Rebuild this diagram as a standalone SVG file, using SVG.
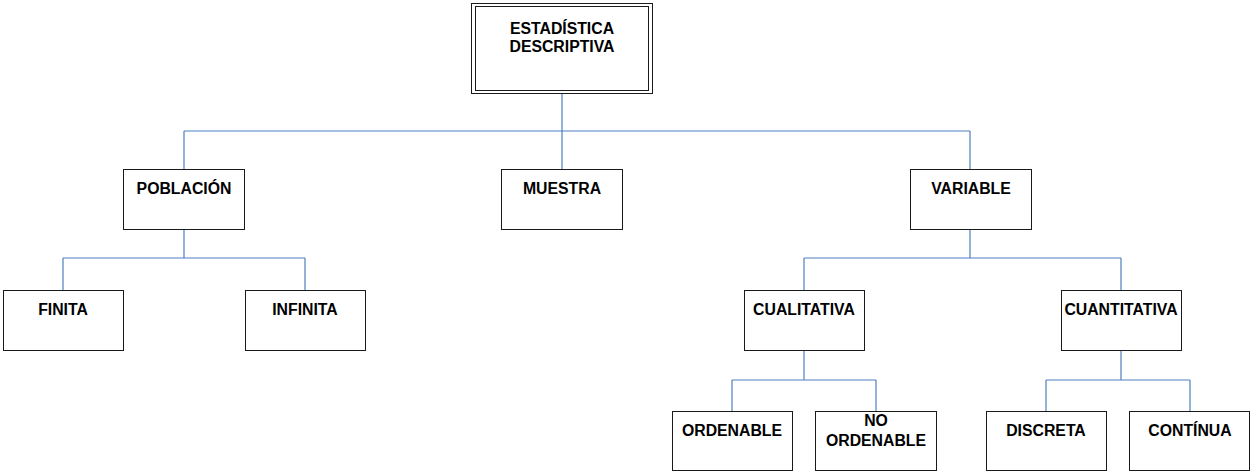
<svg xmlns="http://www.w3.org/2000/svg" width="1254" height="475" viewBox="0 0 1254 475">
<style>
.box{fill:#ffffff;stroke:#1a1a1a;stroke-width:1}
.lbl{font-family:"Liberation Sans",Arial,sans-serif;font-weight:bold;font-size:15.8px;fill:#000;text-anchor:middle}
.con{fill:none;stroke:#4f7fc0;stroke-width:1.2}
</style>
<rect width="1254" height="475" fill="#ffffff"/>
<g id="connectors">
<path class="con" d="M562 93V131M184 131H970M184 131V169M562 131V169M970 131V169"/>
<path class="con" d="M184 229V258M63 258H305M63 258V290M305 258V290"/>
<path class="con" d="M970 229V258M804 258H1121M804 258V290M1121 258V290"/>
<path class="con" d="M804 350V380M732 380H876M732 380V411M876 380V411"/>
<path class="con" d="M1121 350V380M1046 380H1190M1046 380V411M1190 380V411"/>
</g>
<g id="estadistica">
<rect class="box" x="471.5" y="3.5" width="181" height="90" stroke-width="1.5"/>
<rect class="box" x="475.5" y="6.5" width="173" height="84"/>
<text class="lbl" x="562" y="33.5">ESTADÍSTICA</text>
<text class="lbl" x="562" y="52">DESCRIPTIVA</text>
</g>
<g id="poblacion"><rect class="box" x="123.5" y="169.5" width="121" height="60"/><text class="lbl" x="184" y="194">POBLACIÓN</text></g>
<g id="muestra"><rect class="box" x="501.5" y="169.5" width="121" height="60"/><text class="lbl" x="562" y="194">MUESTRA</text></g>
<g id="variable"><rect class="box" x="910.5" y="169.5" width="121" height="60"/><text class="lbl" x="971" y="194">VARIABLE</text></g>
<g id="finita"><rect class="box" x="3.5" y="290.5" width="120" height="60"/><text class="lbl" x="63" y="315">FINITA</text></g>
<g id="infinita"><rect class="box" x="245.5" y="290.5" width="120" height="60"/><text class="lbl" x="305" y="315">INFINITA</text></g>
<g id="cualitativa"><rect class="box" x="744.5" y="290.5" width="120" height="60"/><text class="lbl" x="804" y="315">CUALITATIVA</text></g>
<g id="cuantitativa"><rect class="box" x="1061.5" y="290.5" width="120" height="60"/><text class="lbl" x="1121" y="315">CUANTITATIVA</text></g>
<g id="ordenable"><rect class="box" x="672.5" y="411.5" width="120" height="59"/><text class="lbl" x="732" y="436">ORDENABLE</text></g>
<g id="no-ordenable"><rect class="box" x="815.5" y="411.5" width="121" height="59"/><text class="lbl" x="876" y="426">NO</text><text class="lbl" x="876" y="445.5">ORDENABLE</text></g>
<g id="discreta"><rect class="box" x="986.5" y="411.5" width="120" height="59"/><text class="lbl" x="1046" y="436">DISCRETA</text></g>
<g id="continua"><rect class="box" x="1129.5" y="411.5" width="120" height="59"/><text class="lbl" x="1190" y="436">CONTÍNUA</text></g>
</svg>
